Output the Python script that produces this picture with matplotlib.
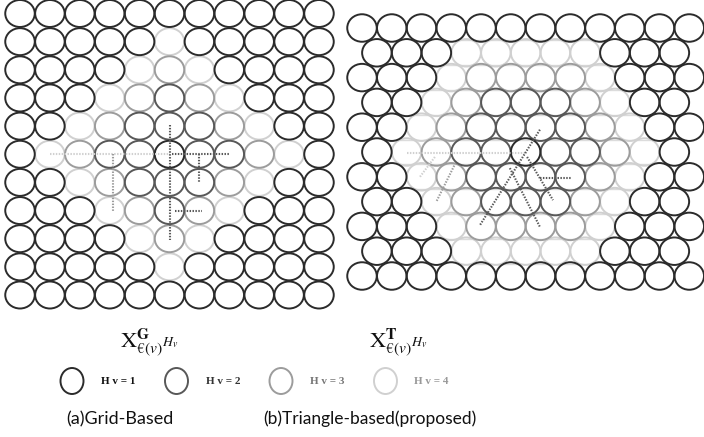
import matplotlib
matplotlib.use("Agg")
import matplotlib.pyplot as plt
from matplotlib.patches import Ellipse

# hop level of every node, 1 = Hv 1 (black) ... 4 = Hv 4 (lightest)
grid_levels = [
    [1, 1, 1, 1, 1, 1, 1, 1, 1, 1, 1],
    [1, 1, 1, 1, 1, 4, 1, 1, 1, 1, 1],
    [1, 1, 1, 1, 4, 3, 4, 1, 1, 1, 1],
    [1, 1, 1, 4, 3, 2, 3, 4, 1, 1, 1],
    [1, 1, 4, 3, 2, 2, 2, 3, 4, 1, 1],
    [1, 4, 3, 2, 2, 1, 2, 2, 3, 4, 1],
    [1, 1, 4, 3, 2, 2, 2, 3, 4, 1, 1],
    [1, 1, 1, 4, 3, 2, 3, 4, 1, 1, 1],
    [1, 1, 1, 1, 4, 3, 4, 1, 1, 1, 1],
    [1, 1, 1, 1, 1, 4, 1, 1, 1, 1, 1],
    [1, 1, 1, 1, 1, 1, 1, 1, 1, 1, 1],
]

# triangle lattice: even rows 12 nodes, odd rows 11 nodes shifted half a step
tri_levels = [
    [1, 1, 1, 1, 1, 1, 1, 1, 1, 1, 1, 1],
    [1, 1, 1, 4, 4, 4, 4, 4, 1, 1, 1],
    [1, 1, 1, 4, 3, 3, 3, 3, 4, 1, 1, 1],
    [1, 1, 4, 3, 2, 2, 2, 3, 4, 1, 1],
    [1, 1, 4, 3, 2, 2, 2, 2, 3, 4, 1, 1],
    [1, 4, 3, 2, 2, 1, 2, 2, 3, 4, 1],
    [1, 1, 4, 3, 2, 2, 2, 2, 3, 4, 1, 1],
    [1, 1, 4, 3, 2, 2, 2, 3, 4, 1, 1],
    [1, 1, 1, 4, 3, 3, 3, 3, 4, 1, 1, 1],
    [1, 1, 1, 4, 4, 4, 4, 4, 1, 1, 1],
    [1, 1, 1, 1, 1, 1, 1, 1, 1, 1, 1, 1],
]

# dotted paths in (col, row) lattice units: start, end, level
grid_paths = [
    ((1.0, 5.0), (5.0, 5.0), 4),
    ((5.1, 5.0), (7.0, 5.0), 2),
    ((5.0, 3.95), (5.0, 8.05), 2),
    ((3.1, 5.0), (3.1, 7.0), 3),
    ((6.0, 5.0), (6.0, 6.0), 2),
    ((5.2, 7.0), (6.1, 7.0), 2),
]
tri_paths = [
    ((1.5, 5.05), (5.55, 5.05), 4),
    ((5.98, 4.1), (3.97, 7.94), 2),
    ((4.97, 5.65), (5.98, 8.02), 2),
    ((5.55, 5.2), (6.42, 6.94), 2),
    ((5.98, 6.05), (7.06, 6.05), 2),
    ((2.45, 5.2), (1.95, 6.0), 4),
    ((3.1, 5.55), (2.5, 7.0), 3),
]

legend_labels = ["H v = 1", "H v = 2", "H v = 3", "H v = 4"]
captions = ["(a)Grid-Based", "(b)Triangle-based(proposed)"]
shade = {1: "#2b2b2b", 2: "#585858", 3: "#9c9c9c", 4: "#d0d0d0"}
text_shade = {1: "#111111", 2: "#333333", 3: "#777777", 4: "#999999"}

plt.rcParams["mathtext.fontset"] = "stix"
fig = plt.figure(figsize=(7.04, 4.37), dpi=100)
ax = fig.add_axes([0, 0, 1, 1])
ax.set_xlim(0, 704)
ax.set_ylim(437, 0)
ax.axis("off")


def node(x, y, lvl, w=29.5, h=27.0):
    ax.add_patch(Ellipse((x, y), w, h, fill=False, ec=shade[lvl],
                         lw=1.4, zorder=5 - lvl))


def dotted(xs, ys, lvl):
    ax.plot(xs, ys, color=shade[lvl], lw=1.5, ls=(0, (0.7, 0.7)), zorder=6)


# grid based layout
gx0, gdx, gy0, gdy = 20.0, 29.9, 13.5, 28.15
for r, row in enumerate(grid_levels):
    for c, lvl in enumerate(row):
        node(gx0 + gdx * c, gy0 + gdy * r, lvl)
for (c0, r0), (c1, r1), lvl in grid_paths:
    dotted([gx0 + gdx * c0, gx0 + gdx * c1], [gy0 + gdy * r0, gy0 + gdy * r1], lvl)

# triangle based layout
tx0, tdx, ty0, tdy = 362.0, 29.75, 28.0, 24.8
inner = []
for r, row in enumerate(tri_levels):
    off = 0.5 if r % 2 else 0.0
    xs = [tx0 + tdx * (c + off) for c in range(len(row))]
    for x, lvl in zip(xs, row):
        node(x, ty0 + tdy * r, lvl, w=29.5, h=27.5)
    lit = [x for x, lvl in zip(xs, row) if lvl > 1]
    inner.append((min(lit), max(lit)) if lit else None)
# faint lattice edges between neighbouring rows of the inner area
for r in range(len(tri_levels) - 1):
    spans = [s for s in (inner[r], inner[r + 1]) if s]
    if not spans:
        continue
    x0 = min(s[0] for s in spans) - 8
    x1 = max(s[1] for s in spans) + 8
    y = ty0 + tdy * (r + 0.5)
    ax.plot([x0, x1], [y, y], color="#dcdcdc", lw=1.0, zorder=0)
for (c0, r0), (c1, r1), lvl in tri_paths:
    dotted([tx0 + tdx * c0, tx0 + tdx * c1], [ty0 + tdy * r0, ty0 + tdy * r1], lvl)

# set notation under each layout
for x0, sup in [(120, "G"), (369, "T")]:
    ax.text(x0, 342, r"$\mathrm{X}^{\mathbf{%s}}_{€(v)}$" % sup, fontsize=16,
            ha="left", va="center", color="#111111")
    ax.text(x0 + 42, 343, r"$H_v$", fontsize=10, ha="left", va="center",
            color="#111111")

# legend row
for i, lab in enumerate(legend_labels):
    lvl = i + 1
    cx = 72 + 104.5 * i
    ax.add_patch(Ellipse((cx, 381), 23, 26, fill=False, ec=shade[lvl], lw=1.4))
    ax.text(cx + 29, 382, lab, fontsize=8, family="Liberation Serif",
            weight="bold", color=text_shade[lvl], ha="left", va="center")

ax.text(120, 419, captions[0], fontsize=13, family="Lato", ha="center",
        va="center", color="#111111")
ax.text(370, 419, captions[1], fontsize=12.5, family="Lato", ha="center",
        va="center", color="#111111")

fig.savefig("out.png", dpi=100, facecolor="white")
